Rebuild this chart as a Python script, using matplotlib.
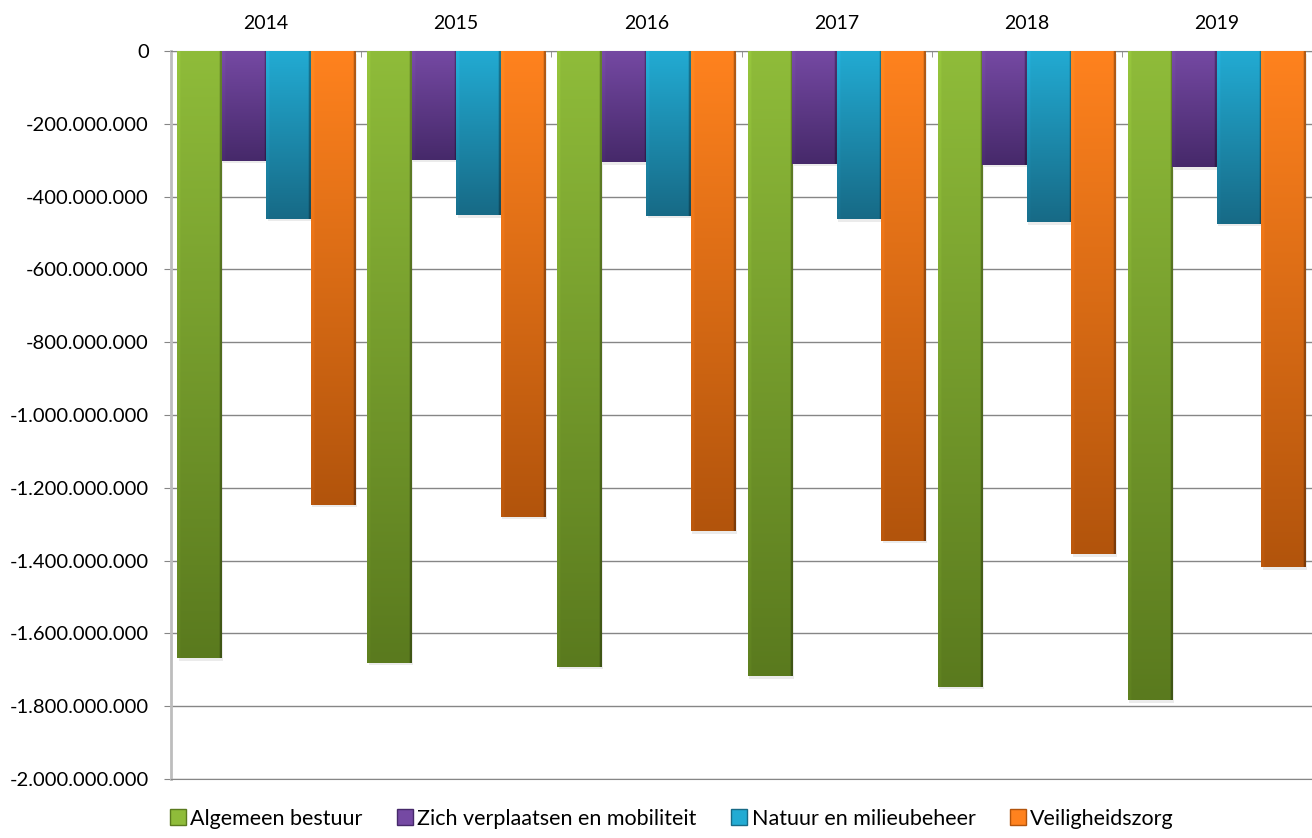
import numpy as np
import matplotlib.pyplot as plt
from matplotlib.patches import Patch
from matplotlib.ticker import FuncFormatter, MultipleLocator

years = ["2014", "2015", "2016", "2017", "2018", "2019"]
algemeen = [-1668e6, -1681e6, -1692e6, -1717e6, -1747e6, -1783e6]
verplaatsen = [-302e6, -299e6, -305e6, -310e6, -313e6, -319e6]
natuur = [-461e6, -451e6, -453e6, -462e6, -470e6, -475e6]
veiligheid = [-1247e6, -1280e6, -1319e6, -1346e6, -1382e6, -1418e6]

series = [
    ("Algemeen bestuur", algemeen, "#8fbc3a", "#5a7a1e"),
    ("Zich verplaatsen en mobiliteit", verplaatsen, "#7549a3", "#46296a"),
    ("Natuur en milieubeheer", natuur, "#22abd3", "#176a86"),
    ("Veiligheidszorg", veiligheid, "#ff821e", "#b2540c"),
]

plt.rcParams["font.family"] = ["Lato", "DejaVu Sans"]

fig = plt.figure(figsize=(13.12, 8.38), dpi=100)
ax = fig.add_axes([171 / 1312, 1 - 779 / 838, 1 - 171 / 1312, (779 - 51) / 838])

x = np.arange(len(years))
w = 0.234


def hex_rgb(h):
    h = h.lstrip("#")
    return np.array([int(h[i:i + 2], 16) / 255 for i in (0, 2, 4)])


def gradient(top, bottom, n=200, m=40):
    # vertical gradient, light on top, darker at the bar end, darker right edge
    t = np.linspace(0, 1, n)[:, None, None]
    img = hex_rgb(top)[None, None, :] * (1 - t) + hex_rgb(bottom)[None, None, :] * t
    img = np.repeat(img, m, axis=1)
    s = np.linspace(0, 1, m)
    shade = np.ones(m)
    shade[s < 0.07] = 1.05
    shade[s > 0.95] = 0.7
    img = img * shade[None, :, None]
    return np.clip(img, 0, 1)


for i, (name, vals, c1, c2) in enumerate(series):
    bars = ax.bar(x + (i - 1.5) * w, vals, width=w, color="none", edgecolor="none", zorder=3)
    img = gradient(c1, c2)
    for r in bars:
        x0, y0 = r.get_x(), r.get_y()
        x1, y1 = x0 + r.get_width(), y0 + r.get_height()
        ax.imshow(img, extent=[x0, x1, min(y0, y1), max(y0, y1)], origin="upper",
                  aspect="auto", zorder=3, interpolation="bilinear")
        # subtle drop shadow
        ax.add_patch(plt.Rectangle((x0 + 0.008, min(y0, y1) - 7e6), r.get_width(), abs(r.get_height()),
                                   facecolor="#000000", alpha=0.08, edgecolor="none", zorder=2))

ax.set_xlim(-0.5, len(years) - 0.5)
ax.set_ylim(-2e9, 0)

ax.yaxis.set_major_locator(MultipleLocator(2e8))
ax.yaxis.set_major_formatter(FuncFormatter(lambda v, p: f"{int(round(v)):,}".replace(",", ".")))
ax.grid(axis="y", color="#868686", linewidth=1.0, zorder=0)
ax.set_axisbelow(True)

ax.xaxis.tick_top()
ax.set_xticks(x)
ax.set_xticklabels(years)
ax.set_xticks(np.arange(len(years) + 1) - 0.5, minor=True)
ax.tick_params(axis="x", which="major", length=0, pad=14, labelsize=14)
ax.tick_params(axis="x", which="minor", length=4, direction="in", color="#868686")
ax.tick_params(axis="y", length=5, color="#868686", labelsize=14.5, pad=11)

ax.spines["right"].set_visible(False)
ax.spines["bottom"].set_color("#868686")
ax.spines["top"].set_color("#868686")
ax.spines["left"].set_color("#bdbdbd")
ax.spines["left"].set_linewidth(2)

handles = [Patch(facecolor=c1, edgecolor=c2, label=name) for name, _, c1, c2 in series]
fig.legend(handles=handles, loc="lower center", bbox_to_anchor=(0.512, -0.012), ncol=4,
           frameon=False, fontsize=15.5, handlelength=0.75, handleheight=0.75,
           handletextpad=0.2, columnspacing=1.6)

fig.savefig("out.png", dpi=100)
